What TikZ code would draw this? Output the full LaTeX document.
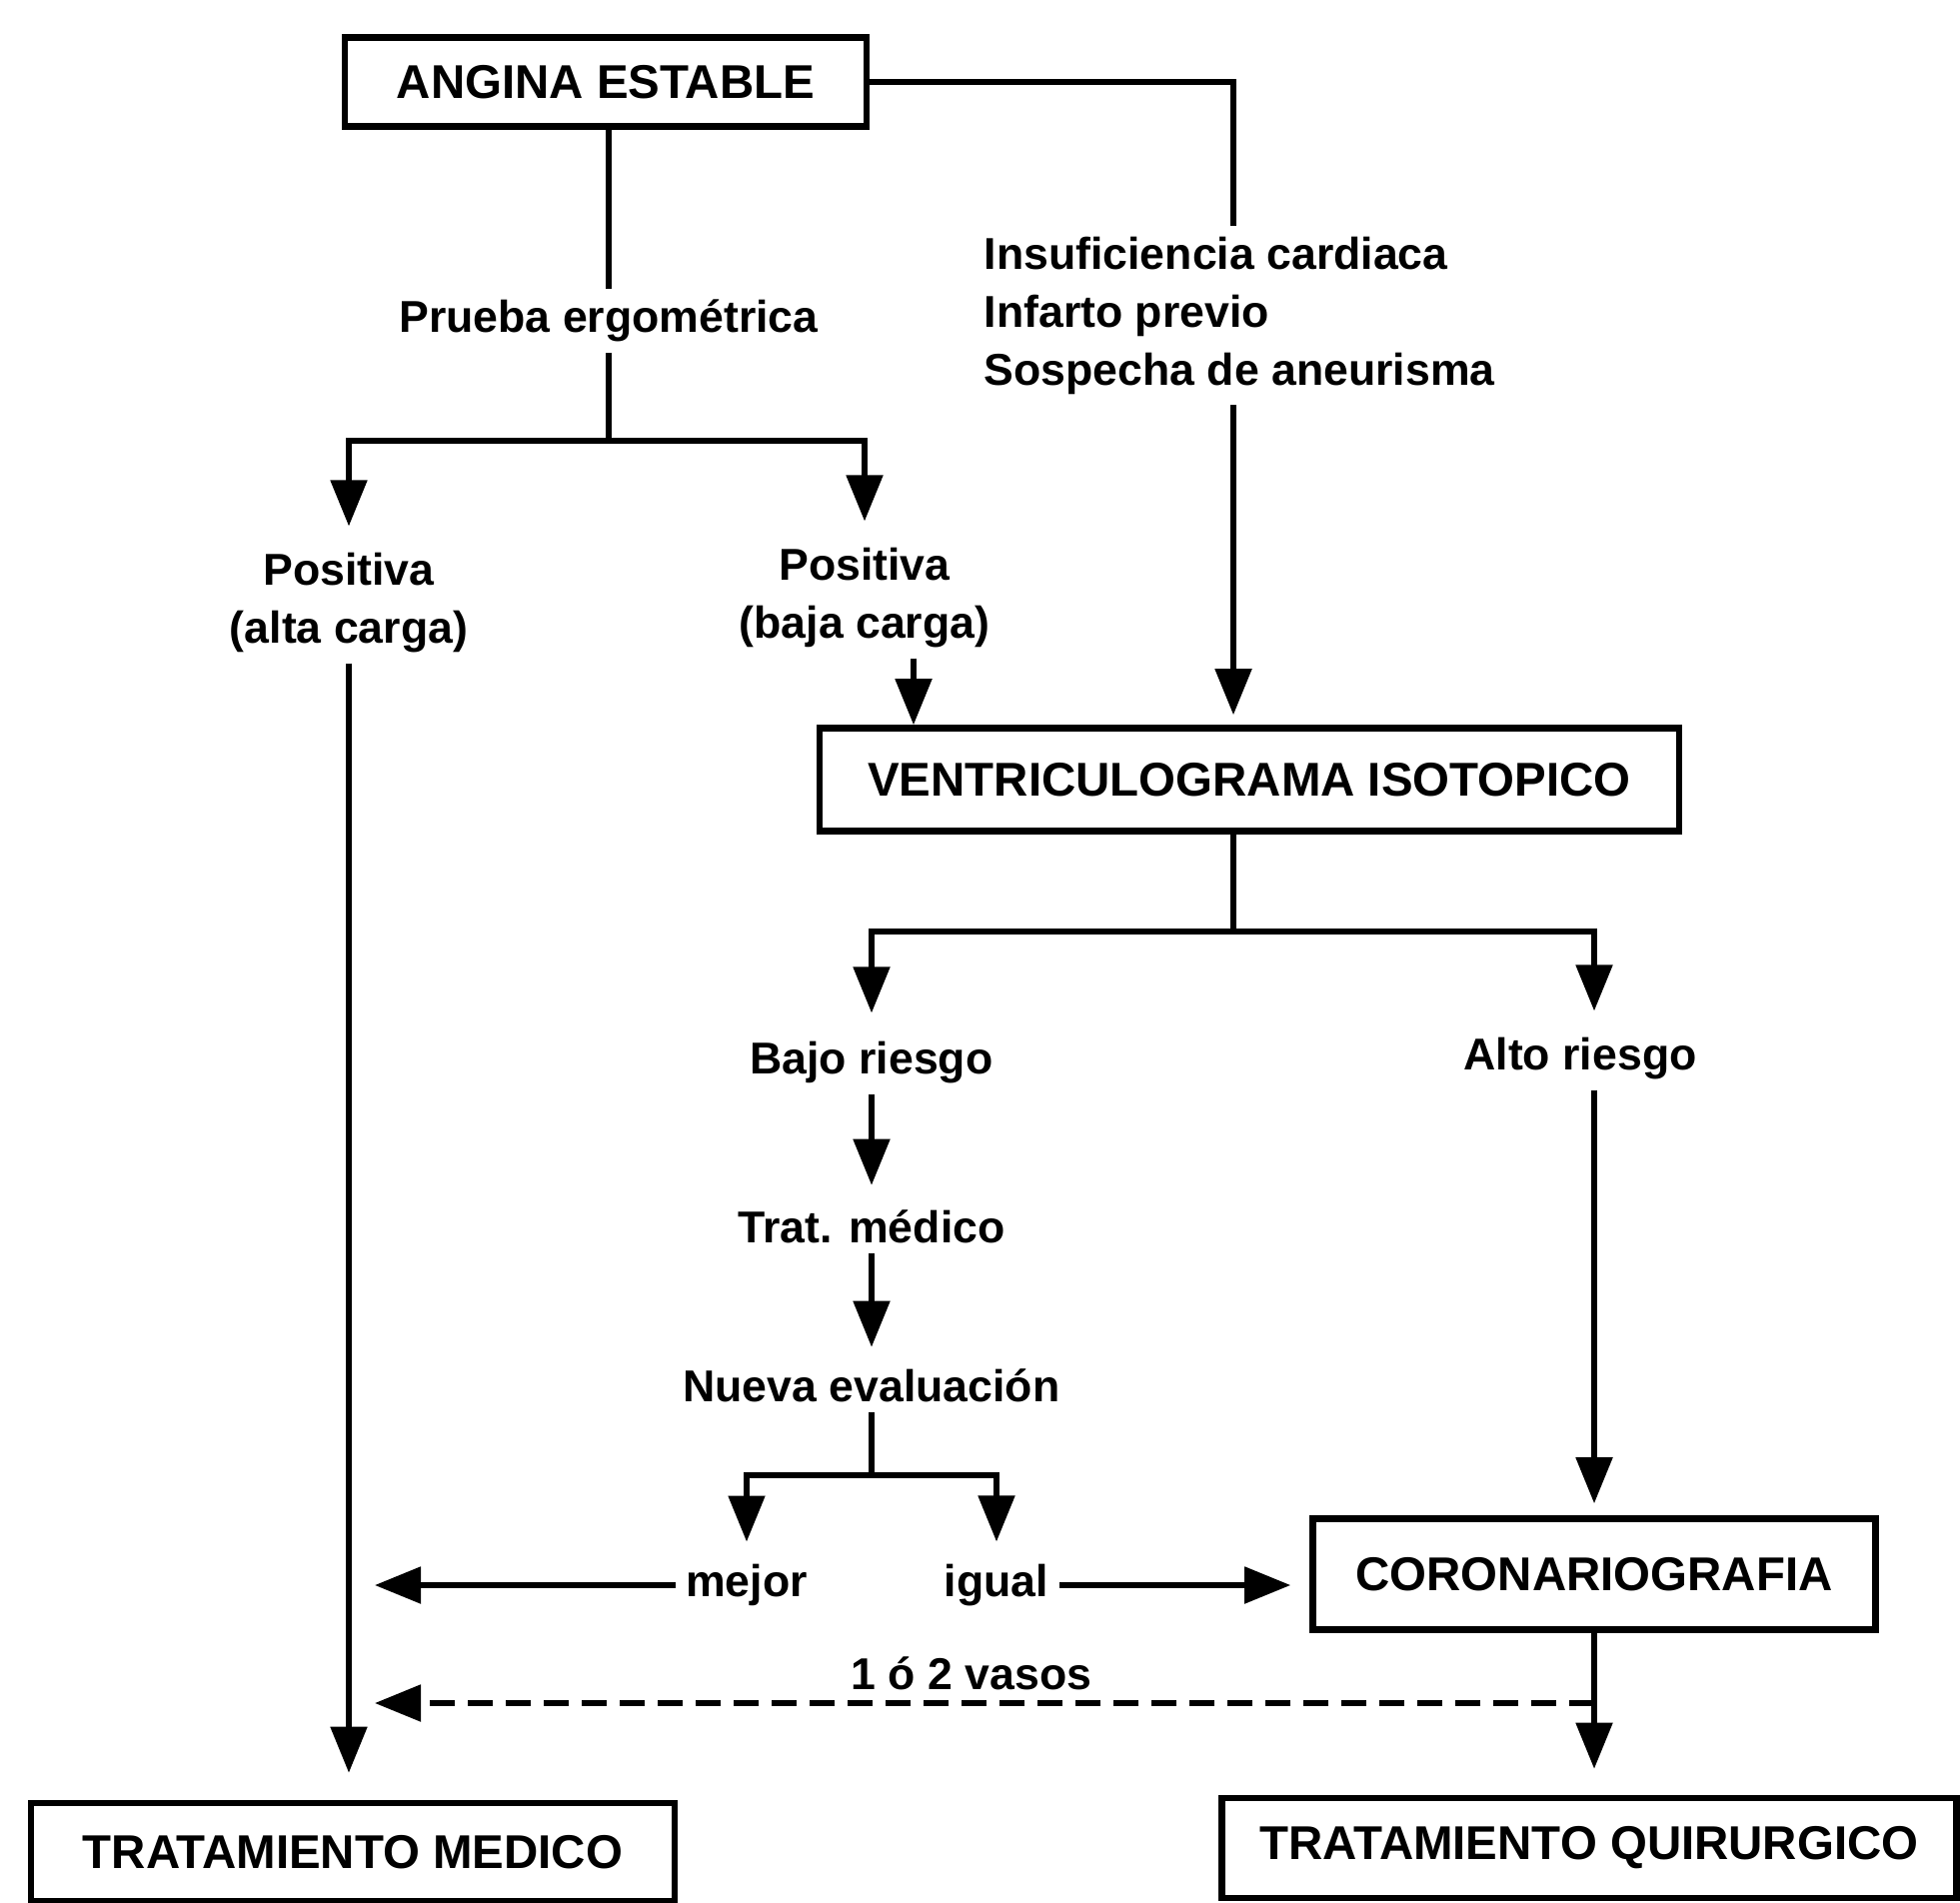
\documentclass[tikz,border=0pt]{standalone}
\usepackage{fontspec}
\setmainfont{Liberation Sans}
\usetikzlibrary{arrows.meta}

\begin{document}
\begin{tikzpicture}[
    box/.style={draw, line width=1.9pt, inner sep=0pt, font=\fontsize{13.5}{16}\selectfont\bfseries},
    txt/.style={align=center, inner sep=0.1cm, font=\fontsize{12.7}{16.5}\selectfont\bfseries},
    ln/.style={line width=1.5pt},
    arr/.style={ln, -{Triangle[length=0.46cm,width=0.36cm]}}
  ]
      \useasboundingbox (0,0) rectangle (19.61,-19.03);

      \node[box, minimum width=5.22cm, minimum height=0.89cm] (angina) at (6.06,-0.82) {ANGINA ESTABLE};
      \node[txt] (prueba) at (6.09,-3.21) {Prueba ergométrica};
      \node[txt, anchor=west, align=left] (insuf) at (9.74,-3.16) {Insuficiencia cardiaca\\Infarto previo\\Sospecha de aneurisma};
      \node[txt] (posalta) at (3.49,-6.03) {Positiva\\(alta carga)};
      \node[txt] (posbaja) at (8.65,-5.98) {Positiva\\(baja carga)};
      \node[box, minimum width=8.60cm, minimum height=1.03cm] (ventri) at (12.50,-7.80) {VENTRICULOGRAMA ISOTOPICO};
      \node[txt] (bajo) at (8.72,-10.63) {Bajo riesgo};
      \node[txt] (alto) at (15.81,-10.59) {Alto riesgo};
      \node[txt] (trat) at (8.72,-12.27) {Trat. médico};
      \node[txt] (nueva) at (8.72,-13.86) {Nueva evaluación};
      \node[txt] (mejor) at (7.47,-15.86) {mejor};
      \node[txt] (igual) at (9.97,-15.86) {igual};
      \node[box, minimum width=5.63cm, minimum height=1.11cm] (coro) at (15.95,-15.75) {CORONARIOGRAFIA};
      \node[box, minimum width=6.44cm, minimum height=0.98cm] (medico) at (3.53,-18.53) {TRATAMIENTO MEDICO};
      \node[box, minimum width=7.35cm, minimum height=1.00cm] (quir) at (15.90,-18.49) {TRATAMIENTO QUIRURGICO};

      \coordinate (pj) at (6.09,-4.41);
      \coordinate (vj) at (12.34,-9.32);
      \coordinate (nj) at (8.72,-14.76);
      \coordinate (vd) at (15.95,-17.04);

      \draw[ln] (prueba.north |- angina.south) -- (prueba.north);
      \draw[ln] (angina.east) -| (vj |- insuf.north);
      \draw[arr, shorten >=0.1cm] (vj |- insuf.south) -- (vj |- ventri.north);
      \draw[ln] (prueba.south) -- (pj);
      \draw[arr, shorten >=0.16cm] (pj) -| (posalta.north);
      \draw[arr, shorten >=0.16cm] (pj) -| (posbaja.north);
      \draw[arr] ([xshift=0.49cm]posbaja.south) -- ([xshift=0.49cm]posbaja.south |- ventri.north);
      \draw[arr, shorten >=0.27cm] (posalta.south) -- (posalta.south |- medico.north);
      \draw[ln] (vj |- ventri.south) -- (vj);
      \draw[arr, shorten >=0.18cm] (vj) -| (bajo.north);
      \draw[arr, shorten >=0.16cm] (vj) -| (alto.north -| coro.north);
      \draw[arr, shorten >=0.12cm] (alto.south -| coro.north) -- (coro.north);
      \draw[arr, shorten >=0.14cm] (bajo) -- (trat);
      \draw[arr, shorten >=0.11cm] (trat) -- (nueva);
      \draw[ln] (nueva.south) -- (nj);
      \draw[arr, shorten >=0.12cm] (nj) -| (mejor.north);
      \draw[arr, shorten >=0.12cm] (nj) -| (igual.north);
      \draw[arr, shorten >=0.26cm] (mejor.west) -- (mejor.west -| posalta.south);
      \draw[arr, shorten >=0.19cm] (igual.east) -- (igual.east -| coro.west);
      \draw[arr, shorten >=0.26cm] (coro.south) -- (coro.south |- quir.north);
      \draw[arr, dash pattern=on 0.25cm off 0.13cm, shorten >=0.26cm] (vd) -- (vd -| posalta.south) node[txt, midway, above] {1 ó 2 vasos};
    \end{tikzpicture}
\end{document}
